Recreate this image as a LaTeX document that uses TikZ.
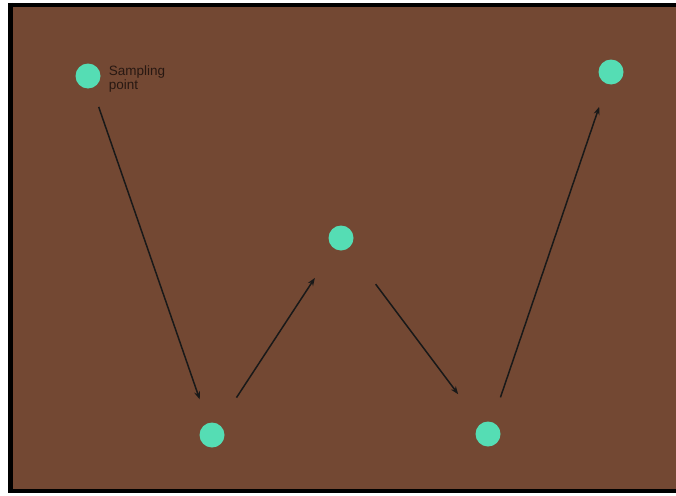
\documentclass[tikz,border=0pt]{standalone}
\usepackage{fontspec}
\setmainfont{Liberation Sans}
\usepackage{xcolor}
\usetikzlibrary{positioning, arrows.meta}

\definecolor{soil}{RGB}{115,72,51}
\definecolor{pointcol}{RGB}{85,221,180}
\definecolor{labelcol}{RGB}{40,24,18}

\begin{document}
\begin{tikzpicture}[x=1pt, y=-1pt,
  spot/.style={circle, fill=pointcol, minimum size=25pt, inner sep=0pt},
  arr/.style={-{Stealth[length=8pt, width=6pt]}, line width=1.5pt, black!90}
]
  \useasboundingbox (0,0) rectangle (676,495);
  \fill[white] (0,0) rectangle (676,495);
  \fill[soil] (11,5) rectangle (676,491);
  % frame
  \draw[line width=5pt] (10.5,3) -- (10.5,493);
  \draw[line width=4pt] (8,5) -- (676,5);
  \draw[line width=4pt] (8,491) -- (676,491);

  \node[spot] (p1) at (88,76)  {};
  \node[spot] (p2) at (212,435) {};
  \node[spot] (p3) at (341,238) {};
  \node[spot] (p4) at (488,434) {};
  \node[spot] (p5) at (611,72)  {};

  \node[right=8pt of p1, yshift=-3pt, align=left, text=labelcol, inner sep=0pt,
        font=\fontsize{13.5}{13.5}\selectfont] (lbl) {Sampling\\point};

  \draw[arr, shorten <=20pt, shorten >=25pt] (p1) -- (p2);
  \draw[arr, shorten <=32pt, shorten >=35pt] (p2) -- (p3);
  \draw[arr, shorten <=45pt, shorten >=37pt] (p3) -- (p4);
  \draw[arr, shorten <=26pt, shorten >=24pt] (p4) -- (p5);
\end{tikzpicture}
\end{document}
